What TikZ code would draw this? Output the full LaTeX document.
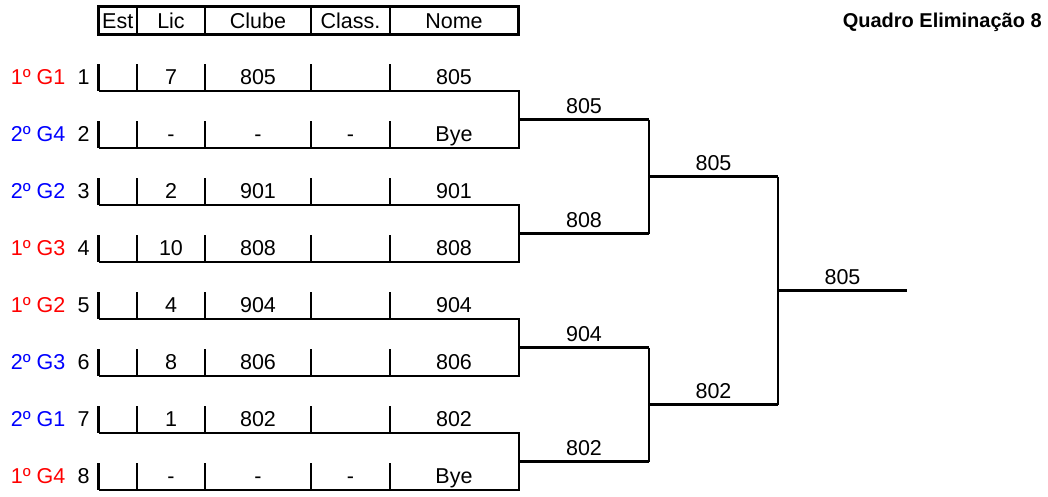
\documentclass[tikz,border=0pt]{standalone}
\usepackage{fontspec}
\setmainfont{Liberation Sans}
\definecolor{gred}{RGB}{255,0,0}
\definecolor{gblue}{RGB}{0,0,255}
\begin{document}
\begin{tikzpicture}[x=1pt,y=-1pt,line width=2.6pt,line join=miter,
  txt/.style={font=\fontsize{21.5}{25}\selectfont,inner sep=0pt,anchor=base},
  ttl/.style={font=\fontsize{20}{24}\selectfont\bfseries,inner sep=0pt,anchor=base east},
  rowline/.style={draw=black,line width=2.6pt},
  tick/.style={draw=black,line width=2.6pt}]
\useasboundingbox (0,0) rectangle (1048,496);
% title
\node[ttl] (title) at (1043,27.5) {Quadro Eliminação 8};
% header
\draw[rowline] (98.5,6.5) rectangle (518.5,34.5);
\foreach \x in {137,205,311,390} \draw[tick] (\x,6.5) -- (\x,34.5);
\node[txt] (hEst) at (117.75,28) {Est};
\node[txt] (hLic) at (171,28) {Lic};
\node[txt] (hClube) at (258,28) {Clube};
\node[txt] (hClass) at (350.5,28) {Class.};
\node[txt] (hNome) at (454,28) {Nome};
% rows
\foreach \i/\lab/\col/\lic/\clu/\cla/\nom in {
  1/1º G1/gred/7/805//805,
  2/2º G4/gblue/-/-/-/Bye,
  3/2º G2/gblue/2/901//901,
  4/1º G3/gred/10/808//808,
  5/1º G2/gred/4/904//904,
  6/2º G3/gblue/8/806//806,
  7/2º G1/gblue/1/802//802,
  8/1º G4/gred/-/-/-/Bye}{
  \pgfmathsetmacro{\L}{91+57*(\i-1)}
  \pgfmathsetmacro{\B}{\L-7}
  \pgfmathsetmacro{\T}{\L-27}
  \node[txt,anchor=base west,text=\col] (lab\i) at (9.5,\B) {\lab};
  \node[txt,anchor=base east] (num\i) at (91,\B) {\i};
  \node[txt] (lic\i) at (171,\B) {\lic};
  \node[txt] (clu\i) at (258,\B) {\clu};
  \node[txt] (cla\i) at (350.5,\B) {\cla};
  \node[txt] (nom\i) at (454,\B) {\nom};
  \coordinate (s\i) at (98.5,\L);
  \coordinate (e\i) at (519,\L);
  \foreach \x in {98.5,137,205,311,390} \draw[tick] (\x,\T) -- (\x,\L);
}
% first round brackets
\foreach \a/\b/\m/\w in {1/2/119.5/805, 3/4/233.5/808, 5/6/347.5/904, 7/8/461.5/802}{
  \coordinate (m\a) at (519,\m);
  \coordinate (r\a) at (649,\m);
  \draw[rowline] (s\a) -- (e\a) -- (e\b) -- (s\b);
  \draw[rowline] (m\a) -- (r\a);
  \node[txt] (w\a) at (584,\m-6.5) {\w};
}
% second round
\coordinate (q1) at (649,176.5);
\coordinate (q1e) at (778,176.5);
\coordinate (q2) at (649,404.5);
\coordinate (q2e) at (778,404.5);
\draw[rowline] (r1) -- (r3);
\draw[rowline] (q1) -- (q1e);
\node[txt] (wq1) at (713.5,170) {805};
\draw[rowline] (r5) -- (r7);
\draw[rowline] (q2) -- (q2e);
\node[txt] (wq2) at (713.5,398) {802};
% final
\coordinate (f) at (778,290.5);
\coordinate (fe) at (907,290.5);
\draw[rowline] (q1e) -- (q2e);
\draw[rowline] (f) -- (fe);
\node[txt] (wf) at (842.5,284) {805};
\end{tikzpicture}
\end{document}
